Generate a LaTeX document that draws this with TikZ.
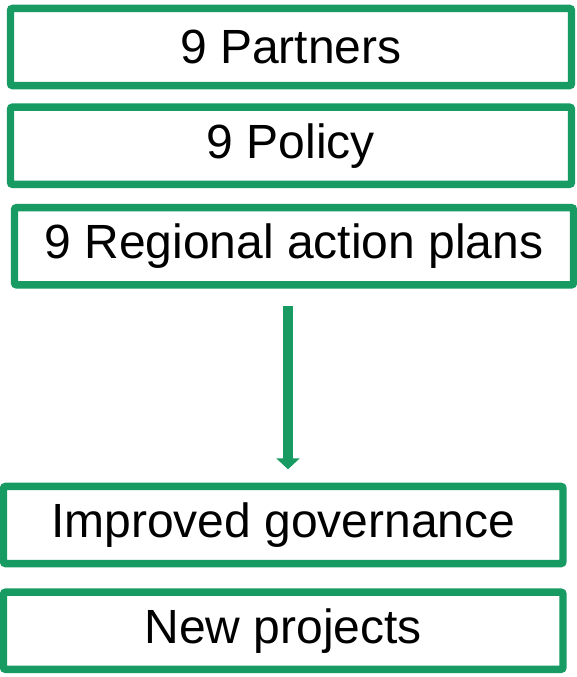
\documentclass[tikz,border=0pt]{standalone}
\usepackage{fontspec}
\setmainfont{Liberation Sans}
\usetikzlibrary{positioning,arrows.meta}
\definecolor{boxgreen}{RGB}{23,155,98}
\tikzset{G box/.style={rectangle,draw=boxgreen,fill=white,line width=5.5pt,rounded corners=1.5pt,inner sep=0pt,minimum height=57.9pt,font=\fontsize{36}{40}\selectfont},
	G arrow/.style={draw=boxgreen,line width=7.5pt,-{Triangle[width=17.25pt,length=8.25pt]}},}

\begin{document}
\begin{tikzpicture}[x=0.75pt,y=-0.75pt]
			\useasboundingbox (0,0) rectangle (577,677);

			\node[G box, minimum width=420.75pt] (b1) at (291, 47) {9 Partners};
			\node[G box, minimum width=420.75pt] (b2) at (291, 145.75) {9 Policy};
			\node[G box, minimum width=419.25pt] (b3) at (294, 246.25) {9 Regional action plans};

			\node[G box, minimum width=419.6pt] (b4) at (283.25, 525) {Improved governance};
			\node[G box, minimum width=419.6pt] (b5) at (283.25, 630.75) {New projects};

			\path[G arrow, shorten <=13.1pt, shorten >=10.1pt]
				([xshift=-4.5pt]b3.south) -- ([xshift=-4.5pt]b3.south |- b4.north);
		\end{tikzpicture}
\end{document}
